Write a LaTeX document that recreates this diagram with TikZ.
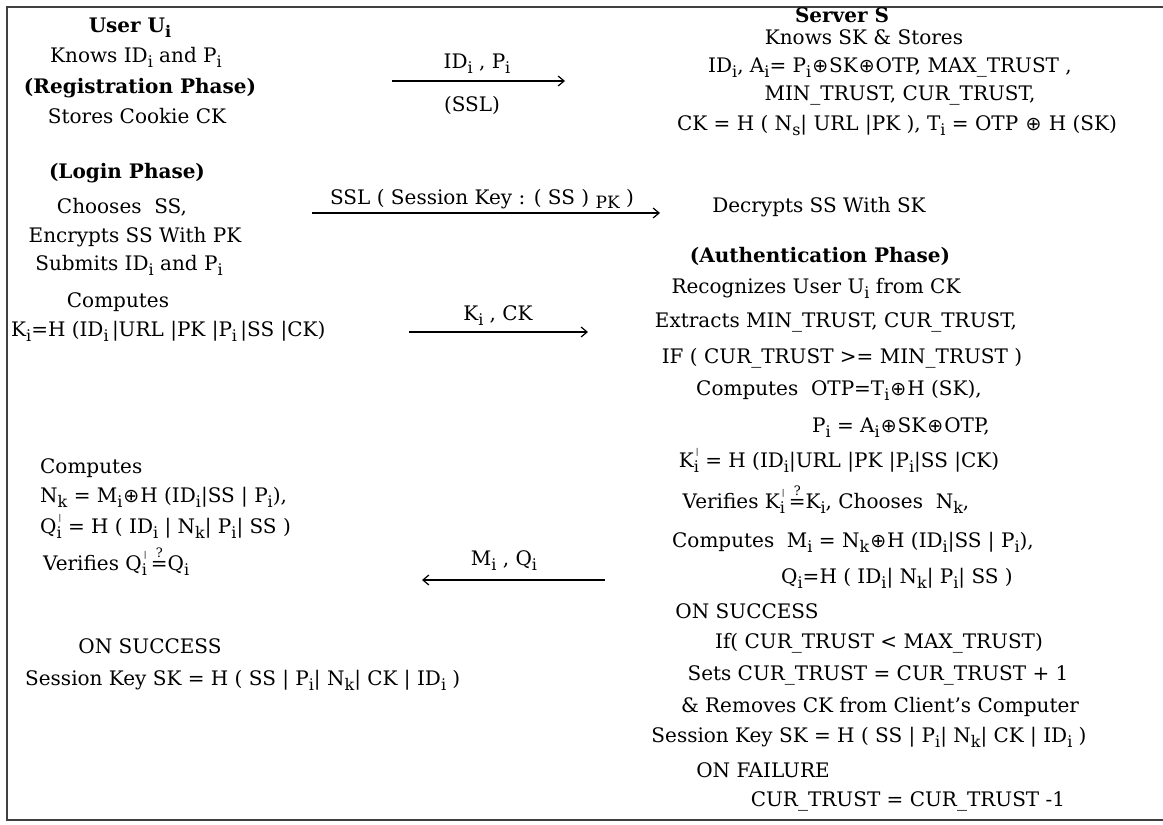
\documentclass[tikz,border=0pt]{standalone}
\usepackage{fontspec}
\setmainfont{DejaVu Serif}
\newfontfamily\symf{DejaVu Sans}
\usetikzlibrary{arrows.meta}
\newcommand\sbx[1]{\raisebox{-5.5pt}{\fontsize{16}{16}\selectfont #1}}
\newcommand\xr{\kern1pt{\symf\fontsize{19}{19}\selectfont ⊕}\kern1pt}
\newcommand\pr{\rlap{\raisebox{13pt}{\fontsize{8}{8}\selectfont\kern2pt|}}\sbx{i}}
\newcommand\qeq{\kern4pt\ooalign{\hfil\raisebox{12.5pt}{\fontsize{13}{13}\selectfont ?}\hfil\cr =\cr}}
\tikzset{
  txt/.style={anchor=base, inner sep=0pt, font=\fontsize{20}{24}\selectfont},
  lft/.style={txt, anchor=base west},
  bld/.style={txt, font=\fontsize{20}{24}\selectfont\bfseries},
  msg/.style={-{Straight Barb[length=6pt,width=10pt]}, line width=1.2pt},
  frame/.style={draw=black!75, line width=2.5pt}
}
\begin{document}
\begin{tikzpicture}[x=1pt,y=-1pt]
\useasboundingbox (0,0) rectangle (1163,825);
\draw[frame] (7,7) rectangle (1175,820);
% user side
\node[bld] (u1) at (130,32) {User U\sbx{\bfseries i}};
\node[txt] (u2) at (136,62) {Knows ID\sbx{i} and P\sbx{i}};
\node[bld] (u3) at (140,93) {(Registration Phase)};
\node[txt] (u4) at (137,123) {Stores Cookie CK};
\node[bld] (u5) at (127,178) {(Login Phase)};
\node[txt] (u6) at (122,213) {Chooses\ \ SS,};
\node[txt] (u7) at (135,242) {Encrypts SS With PK};
\node[txt] (u8) at (129,270) {Submits ID\sbx{i} and P\sbx{i}};
\node[txt] (u9) at (118,307) {Computes};
\node[lft] (u10) at (11,336) {K\sbx{i}=H (ID\sbx{i}\,|URL |PK |P\sbx{i}\,|SS |CK)};
\node[lft] (u11) at (40,473) {Computes};
\node[lft] (u12) at (40,502) {N\sbx{k} = M\sbx{i}\xr H (ID\sbx{i}|SS | P\sbx{i}),};
\node[lft] (u13) at (40,533) {Q\pr{} = H ( ID\sbx{i} | N\sbx{k}| P\sbx{i}| SS )};
\node[lft] (u14) at (43,570) {Verifies Q\pr\qeq Q\sbx{i}};
\node[txt] (u15) at (150,653) {ON SUCCESS};
\node[lft] (u16) at (25,685) {Session Key SK = H ( SS | P\sbx{i}| N\sbx{k}| CK | ID\sbx{i} )};
% server side
\node[bld] (s1) at (842,22) {Server S};
\node[txt] (s2) at (864,44) {Knows SK \& Stores};
\node[txt] (s3) at (890,72) {ID\sbx{i}, A\sbx{i}= P\sbx{i}\xr SK\xr OTP, MAX\_TRUST ,};
\node[txt] (s4) at (900,100) {MIN\_TRUST, CUR\_TRUST,};
\node[txt] (s5) at (897,130) {CK = H ( N\sbx{s}| URL |PK ), T\sbx{i} = OTP \xr{} H (SK)};
\node[txt] (s6) at (819,212) {Decrypts SS With SK};
\node[bld] (s7) at (820,262) {(Authentication Phase)};
\node[txt] (s8) at (816,293) {Recognizes User U\sbx{i} from CK};
\node[txt] (s9) at (836,327) {Extracts MIN\_TRUST, CUR\_TRUST,};
\node[txt] (s10) at (842,363) {IF ( CUR\_TRUST >= MIN\_TRUST )};
\node[txt] (s11) at (839,395) {Computes\ \ OTP=T\sbx{i}\xr H (SK),};
\node[txt] (s12) at (901,432) {P\sbx{i} = A\sbx{i}\xr SK\xr OTP,};
\node[txt] (s13) at (839,467) {K\pr{} = H (ID\sbx{i}|URL |PK |P\sbx{i}|SS |CK)};
\node[txt] (s14) at (826,508) {Verifies K\pr\qeq K\sbx{i}, Chooses\ \ N\sbx{k},};
\node[txt] (s15) at (853,547) {Computes\ \ M\sbx{i} = N\sbx{k}\xr H (ID\sbx{i}|SS | P\sbx{i}),};
\node[txt] (s16) at (897,583) {Q\sbx{i}=H ( ID\sbx{i}| N\sbx{k}| P\sbx{i}| SS )};
\node[txt] (s17) at (747,618) {ON SUCCESS};
\node[txt] (s18) at (879,648) {If( CUR\_TRUST < MAX\_TRUST)};
\node[txt] (s19) at (878,680) {Sets CUR\_TRUST = CUR\_TRUST + 1};
\node[txt] (s20) at (880,712) {\& Removes CK from Client's Computer};
\node[txt] (s21) at (869,742) {Session Key SK = H ( SS | P\sbx{i}| N\sbx{k}| CK | ID\sbx{i} )};
\node[txt] (s22) at (763,777) {ON FAILURE};
\node[txt] (s23) at (908,806) {CUR\_TRUST = CUR\_TRUST -1};
% messages
\coordinate (a1s) at (392,81); \coordinate (a1e) at (565,81);
\draw[msg] (a1s) -- (a1e);
\node[txt] (l1) at (477,68) {ID\sbx{i} , P\sbx{i}};
\node[txt] (l1b) at (472,111) {(SSL)};
\coordinate (a2s) at (312,213); \coordinate (a2e) at (660,213);
\draw[msg] (a2s) -- (a2e);
\node[txt] (l2) at (482,204) {SSL ( Session Key : ( SS ) \raisebox{-4pt}{\fontsize{17}{17}\selectfont PK} )};
\coordinate (a3s) at (409,332); \coordinate (a3e) at (588,332);
\draw[msg] (a3s) -- (a3e);
\node[txt] (l3) at (498,320) {K\sbx{i} , CK};
\coordinate (a4s) at (605,580); \coordinate (a4e) at (422,580);
\draw[msg] (a4s) -- (a4e);
\node[txt] (l4) at (504,565) {M\sbx{i} , Q\sbx{i}};
\end{tikzpicture}
\end{document}
